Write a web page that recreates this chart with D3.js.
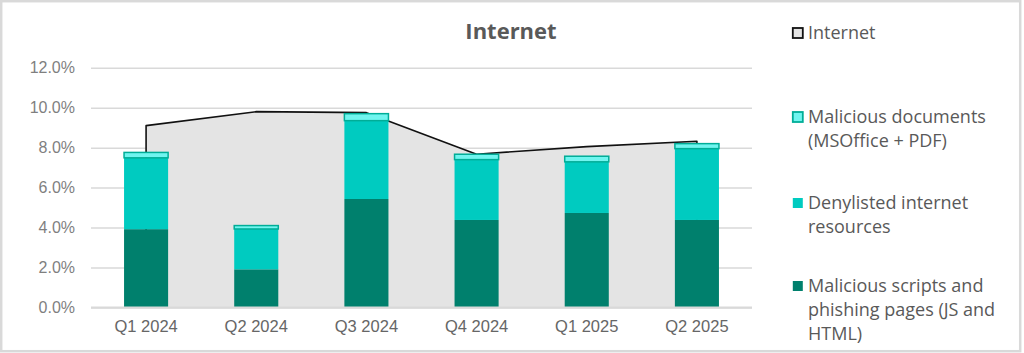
<!DOCTYPE html>
<html lang="en">
<head>
    <meta charset="UTF-8">
    <title>Internet</title>
    <script src="https://d3js.org/d3.v7.min.js"></script>
    <style>
        body { margin: 0; background: #fff; }
        svg { display: block; font-family: "Open Sans", Lato, sans-serif; }
        .tick text { fill: #7f7f7f; font-size: 16px; }
        .xaxis .tick text { fill: #666; font-size: 16.5px; }
        .legend text { fill: #595959; font-size: 18px; }
    </style>
</head>
<body>
    <svg width="1024" height="353"></svg>
    <script>
        const quarters = ["Q1 2024", "Q2 2024", "Q3 2024", "Q4 2024", "Q1 2025", "Q2 2025"];
        const scripts = [3.92, 1.91, 5.43, 4.38, 4.73, 4.38];
        const denylisted = [3.57, 2.02, 3.92, 3.02, 2.56, 3.57];
        const documents = [0.27, 0.17, 0.35, 0.27, 0.28, 0.25];
        const internet = [9.1, 9.8, 9.75, 7.67, 8.05, 8.32];
        const yTicks = [0, 2, 4, 6, 8, 10, 12];

        const svg = d3.select("svg");

        // outer frame
        svg.append("rect")
            .attr("x", 1.2).attr("y", 1.2)
            .attr("width", 1019).attr("height", 350)
            .attr("fill", "#fff")
            .attr("stroke", "#d9d9d9")
            .attr("stroke-width", 2.5);

        const x = d3.scaleBand()
            .domain(quarters)
            .range([91, 752])
            .paddingInner(0.6)
            .paddingOuter(0.3);

        const y = d3.scaleLinear()
            .domain([0, 12])
            .range([307.5, 67.7]);

        // grid + y labels
        svg.append("g")
            .attr("class", "yaxis")
            .attr("transform", "translate(91,0)")
            .call(d3.axisLeft(y).tickValues(yTicks).tickFormat(d => d.toFixed(1) + "%").tickSize(-661).tickPadding(16))
            .call(g => g.select(".domain").remove())
            .call(g => g.selectAll(".tick line").attr("stroke", "#d9d9d9").attr("stroke-width", 1.5));

        // Internet area
        const cx = d => x(d) + x.bandwidth() / 2;
        const pts = quarters.map((q, i) => [cx(q), y(internet[i])]);
        const areaPath = d3.line()([[pts[0][0], y(0)], ...pts, [pts[pts.length - 1][0], y(0)]]);
        svg.append("path")
            .attr("d", areaPath)
            .attr("fill", "#e4e4e4")
            .attr("stroke", "#111")
            .attr("stroke-width", 1.6)
            .attr("stroke-linejoin", "round");

        // stacked bars
        const rows = quarters.map((q, i) => ({ q, scripts: scripts[i], denylisted: denylisted[i], documents: documents[i] }));
        const keys = ["scripts", "denylisted", "documents"];
        const colors = { scripts: "#00806d", denylisted: "#00cbc0", documents: "#70f5ef" };
        const stack = d3.stack().keys(keys)(rows);

        stack.forEach(layer => {
            svg.append("g")
                .selectAll("rect")
                .data(layer)
                .join("rect")
                .attr("x", d => x(d.data.q))
                .attr("width", x.bandwidth())
                .attr("y", d => y(d[1]))
                .attr("height", d => y(d[0]) - y(d[1]))
                .attr("fill", colors[layer.key])
                .attr("stroke", layer.key === "documents" ? "#00ad97" : "none")
                .attr("stroke-width", 1.5);
        });

        // baseline
        svg.append("line")
            .attr("x1", 91).attr("x2", 752)
            .attr("y1", y(0)).attr("y2", y(0))
            .attr("stroke", "#d9d9d9").attr("stroke-width", 2);

        // x labels
        svg.append("g")
            .attr("class", "xaxis")
            .attr("transform", `translate(0,${y(0)})`)
            .call(d3.axisBottom(x).tickSize(0).tickPadding(13))
            .call(g => g.select(".domain").remove());

        // title
        svg.append("text")
            .attr("x", 511).attr("y", 39)
            .attr("text-anchor", "middle")
            .attr("font-size", 22)
            .attr("font-weight", "bold")
            .attr("fill", "#595959")
            .text("Internet");

        // legend
        const legendItems = [
            { lines: ["Internet"], y: 39, fill: "#e4e4e4", stroke: "#111" },
            { lines: ["Malicious documents", "(MSOffice + PDF)"], y: 123, fill: "#70f5ef", stroke: "#00ad97" },
            { lines: ["Denylisted internet", "resources"], y: 209, fill: "#00cbc0", stroke: "none" },
            { lines: ["Malicious scripts and", "phishing pages (JS and", "HTML)"], y: 292, fill: "#00806d", stroke: "none" }
        ];

        const legend = svg.append("g").attr("class", "legend")
            .selectAll("g")
            .data(legendItems)
            .join("g")
            .attr("transform", d => `translate(792,${d.y})`);

        legend.append("rect")
            .attr("x", 0.8).attr("y", -11)
            .attr("width", 10).attr("height", 10)
            .attr("fill", d => d.fill)
            .attr("stroke", d => d.stroke)
            .attr("stroke-width", 1.8);

        legend.append("text")
            .selectAll("tspan")
            .data(d => d.lines)
            .join("tspan")
            .attr("x", 16)
            .attr("y", (d, i) => i * 23.8)
            .text(d => d);
    </script>
</body>
</html>
